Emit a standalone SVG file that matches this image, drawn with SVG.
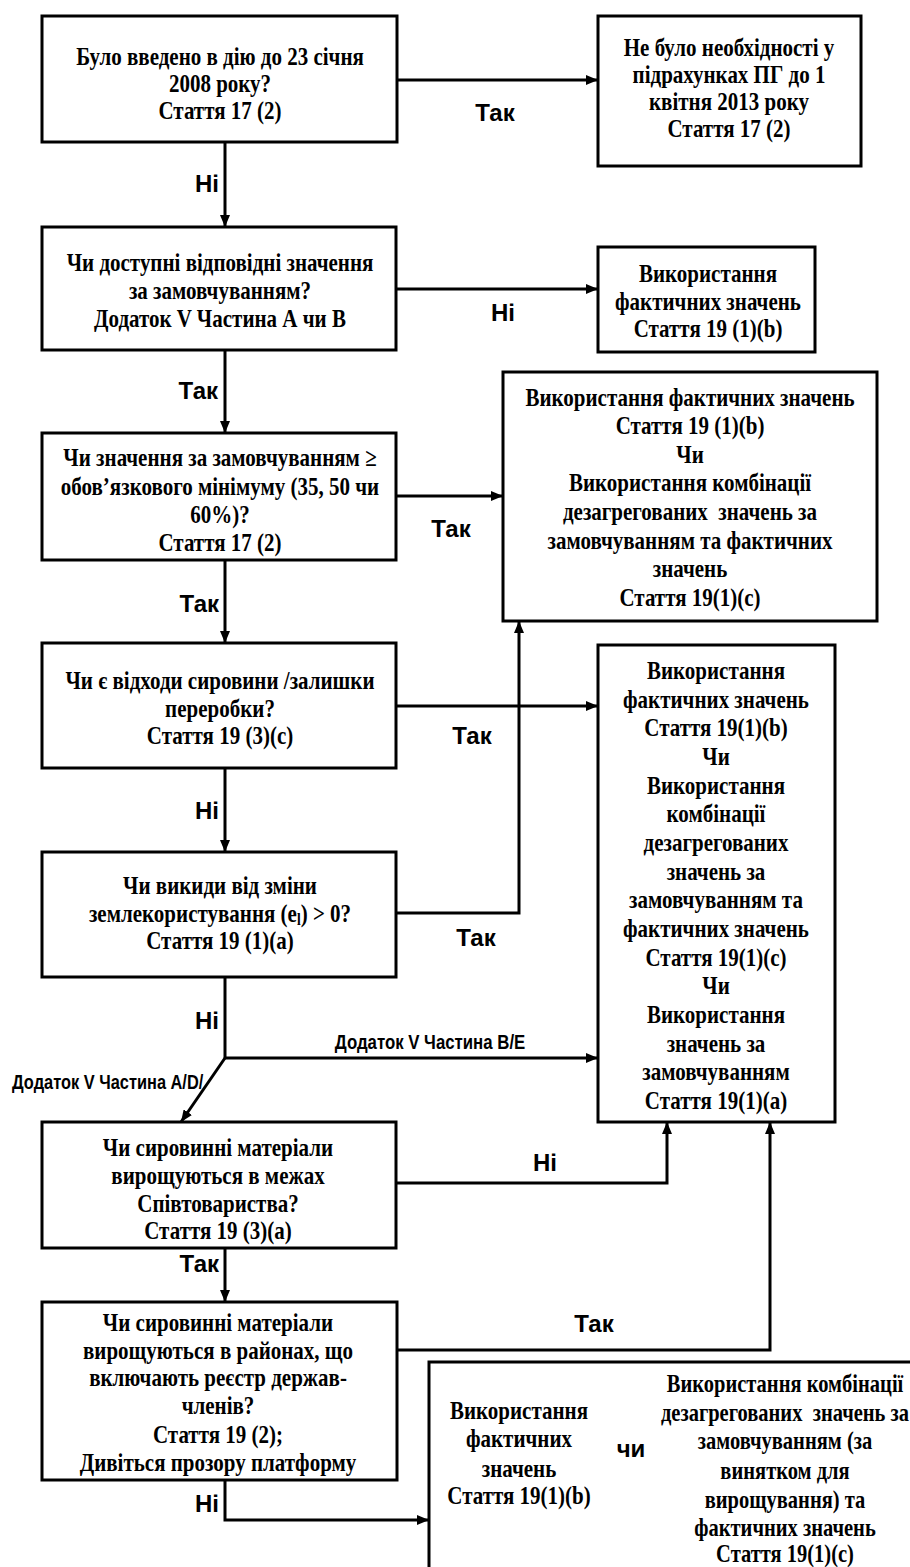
<svg xmlns="http://www.w3.org/2000/svg" width="910" height="1567" viewBox="0 0 910 1567">
<style>
.box{fill:#fff;stroke:#000;stroke-width:3}
.t{font-family:"Liberation Serif","Times New Roman",serif;font-weight:bold;font-size:25px;text-anchor:middle;fill:#000}
.l{font-family:"Liberation Sans",Arial,sans-serif;font-weight:bold;font-size:24px;fill:#000}
.s{font-family:"Liberation Sans",Arial,sans-serif;font-weight:bold;font-size:21px;fill:#000}
.c{fill:none;stroke:#000;stroke-width:3}
</style>
<defs>
<marker id="ah" viewBox="0 0 12 10" refX="12" refY="5" markerWidth="12" markerHeight="10" markerUnits="userSpaceOnUse" orient="auto"><path d="M0,0 L12,5 L0,10 z" fill="#000"/></marker>
</defs>
<rect width="910" height="1567" fill="#fff"/>

<g id="connectors">
<path class="c" d="M397,80 H598" marker-end="url(#ah)"/>
<path class="c" d="M225,142 V227" marker-end="url(#ah)"/>
<path class="c" d="M396,289 H598" marker-end="url(#ah)"/>
<path class="c" d="M225,350 V433" marker-end="url(#ah)"/>
<path class="c" d="M396,496 H503" marker-end="url(#ah)"/>
<path class="c" d="M225,560 V643" marker-end="url(#ah)"/>
<path class="c" d="M396,706 H598" marker-end="url(#ah)"/>
<path class="c" d="M225,768 V852" marker-end="url(#ah)"/>
<path class="c" d="M396,913 H519 V621" marker-end="url(#ah)"/>
<path class="c" d="M225,977 V1058"/>
<path class="c" d="M225,1058 H598" marker-end="url(#ah)"/>
<path class="c" d="M225,1058 L181,1122" marker-end="url(#ah)"/>
<path class="c" d="M396,1183 H667 V1122" marker-end="url(#ah)"/>
<path class="c" d="M225,1248 V1302" marker-end="url(#ah)"/>
<path class="c" d="M397,1350 H770 V1122" marker-end="url(#ah)"/>
<path class="c" d="M225,1480 V1520 H429" marker-end="url(#ah)"/>
<text class="l" x="495" y="121" text-anchor="middle">Так</text>
<text class="l" x="219" y="192" text-anchor="end">Ні</text>
<text class="l" x="503" y="321" text-anchor="middle">Ні</text>
<text class="l" x="218" y="399" text-anchor="end">Так</text>
<text class="l" x="451" y="537" text-anchor="middle">Так</text>
<text class="l" x="219" y="612" text-anchor="end">Так</text>
<text class="l" x="472" y="744" text-anchor="middle">Так</text>
<text class="l" x="219" y="819" text-anchor="end">Ні</text>
<text class="l" x="476" y="946" text-anchor="middle">Так</text>
<text class="l" x="219" y="1029" text-anchor="end">Ні</text>
<text class="s" transform="translate(430 1049) scale(0.8 1)" text-anchor="middle">Додаток V Частина B/E</text>
<text class="s" transform="translate(12 1089) scale(0.78 1)" text-anchor="start">Додаток V Частина A/D/</text>
<text class="l" x="545" y="1171" text-anchor="middle">Ні</text>
<text class="l" x="219" y="1272" text-anchor="end">Так</text>
<text class="l" x="594" y="1332" text-anchor="middle">Так</text>
<text class="l" x="219" y="1512" text-anchor="end">Ні</text>
</g>

<g id="q1">
<rect class="box" x="42" y="16" width="355" height="126"/>
<text class="t" transform="translate(220 0) scale(0.84 1)"><tspan x="0" y="65">Було введено в дію до 23 січня</tspan><tspan x="0" y="92">2008 року?</tspan><tspan x="0" y="119">Стаття 17 (2)</tspan></text>
</g>

<g id="r1">
<rect class="box" x="598" y="16" width="263" height="150"/>
<text class="t" transform="translate(729 0) scale(0.84 1)"><tspan x="0" y="56">Не було необхідності у</tspan><tspan x="0" y="83">підрахунках ПГ до 1</tspan><tspan x="0" y="110">квітня 2013 року</tspan><tspan x="0" y="137">Стаття 17 (2)</tspan></text>
</g>

<g id="q2">
<rect class="box" x="42" y="227" width="354" height="123"/>
<text class="t" transform="translate(220 0) scale(0.84 1)"><tspan x="0" y="271">Чи доступні відповідні значення</tspan><tspan x="0" y="299">за замовчуванням?</tspan><tspan x="0" y="327">Додаток V Частина А чи В</tspan></text>
</g>

<g id="r2">
<rect class="box" x="598" y="247" width="217" height="105"/>
<text class="t" transform="translate(708 0) scale(0.84 1)"><tspan x="0" y="282">Використання</tspan><tspan x="0" y="310">фактичних значень</tspan><tspan x="0" y="337">Стаття 19 (1)(b)</tspan></text>
</g>

<g id="q3">
<rect class="box" x="42" y="433" width="354" height="127"/>
<text class="t" transform="translate(220 0) scale(0.84 1)"><tspan x="0" y="466">Чи значення за замовчуванням ≥</tspan><tspan x="0" y="495">обов’язкового мінімуму (35, 50 чи</tspan><tspan x="0" y="523">60%)?</tspan><tspan x="0" y="551">Стаття 17 (2)</tspan></text>
</g>

<g id="r3">
<rect class="box" x="503" y="372" width="374" height="249"/>
<text class="t" transform="translate(690 0) scale(0.84 1)"><tspan x="0" y="406">Використання фактичних значень</tspan><tspan x="0" y="434">Стаття 19 (1)(b)</tspan><tspan x="0" y="463">Чи</tspan><tspan x="0" y="491">Використання комбінації</tspan><tspan x="0" y="520">дезагрегованих&#160; значень за</tspan><tspan x="0" y="549">замовчуванням та фактичних</tspan><tspan x="0" y="577">значень</tspan><tspan x="0" y="606">Стаття 19(1)(c)</tspan></text>
</g>

<g id="q4">
<rect class="box" x="42" y="643" width="354" height="125"/>
<text class="t" transform="translate(220 0) scale(0.84 1)"><tspan x="0" y="689">Чи є відходи сировини /залишки</tspan><tspan x="0" y="717">переробки?</tspan><tspan x="0" y="744">Стаття 19 (3)(c)</tspan></text>
</g>

<g id="r4">
<rect class="box" x="598" y="645" width="237" height="477"/>
<text class="t" transform="translate(716 0) scale(0.84 1)"><tspan x="0" y="679">Використання</tspan><tspan x="0" y="708">фактичних значень</tspan><tspan x="0" y="736">Стаття 19(1)(b)</tspan><tspan x="0" y="765">Чи</tspan><tspan x="0" y="794">Використання</tspan><tspan x="0" y="822">комбінації</tspan><tspan x="0" y="851">дезагрегованих</tspan><tspan x="0" y="880">значень за</tspan><tspan x="0" y="908">замовчуванням та</tspan><tspan x="0" y="937">фактичних значень</tspan><tspan x="0" y="966">Стаття 19(1)(c)</tspan><tspan x="0" y="994">Чи</tspan><tspan x="0" y="1023">Використання</tspan><tspan x="0" y="1052">значень за</tspan><tspan x="0" y="1080">замовчуванням</tspan><tspan x="0" y="1109">Стаття 19(1)(a)</tspan></text>
</g>

<g id="q5">
<rect class="box" x="42" y="852" width="354" height="125"/>
<text class="t" transform="translate(220 0) scale(0.84 1)"><tspan x="0" y="894">Чи викиди від зміни</tspan><tspan x="0" y="922">землекористування (e<tspan font-size="16" dy="3">l</tspan><tspan dy="-3">) &gt; 0?</tspan></tspan><tspan x="0" y="949">Стаття 19 (1)(a)</tspan></text>
</g>

<g id="q6">
<rect class="box" x="42" y="1122" width="354" height="126"/>
<text class="t" transform="translate(218 0) scale(0.84 1)"><tspan x="0" y="1156">Чи сировинні матеріали</tspan><tspan x="0" y="1184">вирощуються в межах</tspan><tspan x="0" y="1212">Співтовариства?</tspan><tspan x="0" y="1239">Стаття 19 (3)(a)</tspan></text>
</g>

<g id="q7">
<rect class="box" x="42" y="1302" width="355" height="178"/>
<text class="t" transform="translate(218 0) scale(0.84 1)"><tspan x="0" y="1331">Чи сировинні матеріали</tspan><tspan x="0" y="1359">вирощуються в районах, що</tspan><tspan x="0" y="1386">включають реєстр держав-</tspan><tspan x="0" y="1414">членів?</tspan><tspan x="0" y="1443">Стаття 19 (2);</tspan><tspan x="0" y="1471">Дивіться прозору платформу</tspan></text>
</g>

<g id="r5">
<rect class="box" x="429" y="1362" width="520" height="260"/>
<text class="t" transform="translate(519 0) scale(0.84 1)"><tspan x="0" y="1419">Використання</tspan><tspan x="0" y="1447">фактичних</tspan><tspan x="0" y="1477">значень</tspan><tspan x="0" y="1504">Стаття 19(1)(b)</tspan></text>
<text class="l" x="631" y="1457" font-size="22" text-anchor="middle">чи</text>
<text class="t" transform="translate(785 0) scale(0.82 1)"><tspan x="0" y="1392">Використання комбінації</tspan><tspan x="0" y="1421">дезагрегованих&#160; значень за</tspan><tspan x="0" y="1449">замовчуванням (за</tspan><tspan x="0" y="1479">винятком для</tspan><tspan x="0" y="1508">вирощування) та</tspan><tspan x="0" y="1536">фактичних значень</tspan><tspan x="0" y="1562">Стаття 19(1)(c)</tspan></text>
</g>
</svg>
